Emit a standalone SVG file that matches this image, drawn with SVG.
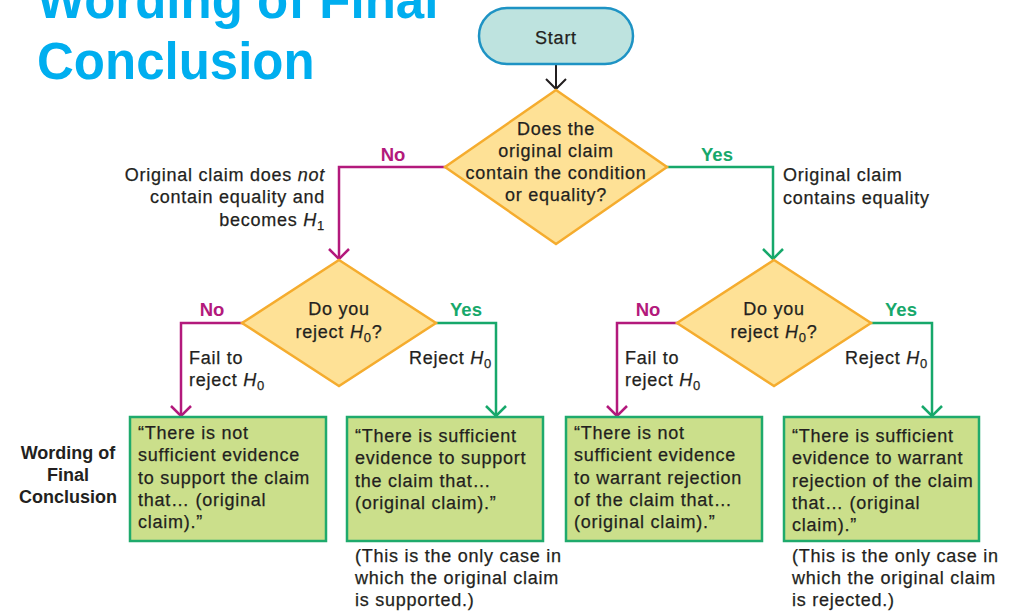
<svg xmlns="http://www.w3.org/2000/svg" width="1009" height="611" viewBox="0 0 1009 611">
<style>
.title{font-family:"Liberation Sans",Arial,sans-serif;font-weight:bold;font-size:51px;fill:#00AEEF}
.t{font-family:"Liberation Sans",Arial,sans-serif;font-size:18px;letter-spacing:0.75px;fill:#231F20;stroke:#231F20;stroke-width:0.25}
.c{text-anchor:middle}
.e{text-anchor:end}
.lbl{font-family:"Liberation Sans",Arial,sans-serif;font-weight:bold;font-size:18.5px;text-anchor:middle}
.no{fill:#B3197C}
.yes{fill:#17A86B}
.side{font-family:"Liberation Sans",Arial,sans-serif;font-weight:bold;font-size:18px;fill:#231F20;text-anchor:middle}
.dia{fill:#FEE196;stroke:#F5AC2E;stroke-width:2.5;stroke-linejoin:miter}
.box{fill:#CBDF8B;stroke:#1FAA6C;stroke-width:2.5}
.start{fill:#BEE3DF;stroke:#1E93C4;stroke-width:2.5}
.cm{fill:none;stroke:#B3197C;stroke-width:2.5}
.cg{fill:none;stroke:#17A86B;stroke-width:2.5}
.ck{fill:none;stroke:#231F20;stroke-width:2}
.i{font-style:italic}
</style>
<defs>
<marker id="am" viewBox="-13 -13 16 26" markerWidth="16" markerHeight="26" refX="0" refY="0" orient="auto" markerUnits="userSpaceOnUse"><path d="M-10,-10 L0,0 L-10,10" fill="none" stroke="#B3197C" stroke-width="2.5"/></marker>
<marker id="ag" viewBox="-13 -13 16 26" markerWidth="16" markerHeight="26" refX="0" refY="0" orient="auto" markerUnits="userSpaceOnUse"><path d="M-10,-10 L0,0 L-10,10" fill="none" stroke="#17A86B" stroke-width="2.5"/></marker>
<marker id="ak" viewBox="-13 -13 16 26" markerWidth="16" markerHeight="26" refX="0" refY="0" orient="auto" markerUnits="userSpaceOnUse"><path d="M-10,-10 L0,0 L-10,10" fill="none" stroke="#231F20" stroke-width="2"/></marker>
</defs>

<g id="title">
<text class="title" x="37" y="18">Wording of Final</text>
<text class="title" x="37" y="79">Conclusion</text>
</g>

<g id="connectors">
<path class="ck" d="M556,64 V89" marker-end="url(#ak)"/>
<path class="cm" d="M446,167 H339 V259" marker-end="url(#am)"/>
<path class="cg" d="M666,167 H773 V259" marker-end="url(#ag)"/>
<path class="cm" d="M243,323 H181 V416" marker-end="url(#am)"/>
<path class="cg" d="M436,323 H496 V416" marker-end="url(#ag)"/>
<path class="cm" d="M678,323 H617 V416" marker-end="url(#am)"/>
<path class="cg" d="M871,323 H932 V416" marker-end="url(#ag)"/>
<text class="lbl no" x="393" y="161">No</text>
<text class="lbl yes" x="717" y="161">Yes</text>
<text class="lbl no" x="212" y="316">No</text>
<text class="lbl yes" x="466" y="316">Yes</text>
<text class="lbl no" x="648" y="316">No</text>
<text class="lbl yes" x="901" y="316">Yes</text>
<text class="t e" x="325" y="181">Original claim does <tspan class="i">not</tspan></text>
<text class="t e" x="325" y="203">contain equality and</text>
<text class="t e" x="325" y="226">becomes <tspan class="i">H</tspan><tspan font-size="13" dy="4">1</tspan></text>
<text class="t" x="783" y="181">Original claim</text>
<text class="t" x="783" y="204">contains equality</text>
<text class="t" x="189" y="364">Fail to</text>
<text class="t" x="189" y="386">reject <tspan class="i">H</tspan><tspan font-size="13" dy="4">0</tspan></text>
<text class="t" x="409" y="364">Reject <tspan class="i">H</tspan><tspan font-size="13" dy="4">0</tspan></text>
<text class="t" x="625" y="364">Fail to</text>
<text class="t" x="625" y="386">reject <tspan class="i">H</tspan><tspan font-size="13" dy="4">0</tspan></text>
<text class="t" x="845" y="364">Reject <tspan class="i">H</tspan><tspan font-size="13" dy="4">0</tspan></text>
</g>

<g id="start">
<rect class="start" x="479" y="8" width="154" height="56" rx="28"/>
<text class="t c" x="556" y="44">Start</text>
</g>

<g id="q1">
<polygon class="dia" points="556,90 667,167 556,244 445,167"/>
<text class="t c" x="556" y="135">Does the</text>
<text class="t c" x="556" y="157">original claim</text>
<text class="t c" x="556" y="179">contain the condition</text>
<text class="t c" x="556" y="201">or equality?</text>
</g>

<g id="q2">
<polygon class="dia" points="339,260 436,323 339,386 242,323"/>
<text class="t c" x="339" y="315">Do you</text>
<text class="t c" x="339" y="338">reject <tspan class="i">H</tspan><tspan font-size="13" dy="4">0</tspan><tspan dy="-4">?</tspan></text>
</g>

<g id="q3">
<polygon class="dia" points="774,260 871,323 774,386 677,323"/>
<text class="t c" x="774" y="315">Do you</text>
<text class="t c" x="774" y="338">reject <tspan class="i">H</tspan><tspan font-size="13" dy="4">0</tspan><tspan dy="-4">?</tspan></text>
</g>

<g id="side-label">
<text class="side" x="68" y="459">Wording of</text>
<text class="side" x="68" y="481">Final</text>
<text class="side" x="68" y="503">Conclusion</text>
</g>

<g id="box1">
<rect class="box" x="130" y="417" width="196" height="124"/>
<text class="t" x="138" y="439">“There is not</text>
<text class="t" x="138" y="461">sufficient evidence</text>
<text class="t" x="138" y="484">to support the claim</text>
<text class="t" x="138" y="506">that… (original</text>
<text class="t" x="138" y="528">claim).”</text>
</g>

<g id="box2">
<rect class="box" x="347" y="417" width="196" height="124"/>
<text class="t" x="355" y="442">“There is sufficient</text>
<text class="t" x="355" y="464">evidence to support</text>
<text class="t" x="355" y="487">the claim that…</text>
<text class="t" x="355" y="509">(original claim).”</text>
<text class="t" x="355" y="562">(This is the only case in</text>
<text class="t" x="355" y="584">which the original claim</text>
<text class="t" x="355" y="606">is supported.)</text>
</g>

<g id="box3">
<rect class="box" x="566" y="417" width="196" height="124"/>
<text class="t" x="574" y="439">“There is not</text>
<text class="t" x="574" y="461">sufficient evidence</text>
<text class="t" x="574" y="484">to warrant rejection</text>
<text class="t" x="574" y="506">of the claim that…</text>
<text class="t" x="574" y="528">(original claim).”</text>
</g>

<g id="box4">
<rect class="box" x="784" y="417" width="195" height="124"/>
<text class="t" x="792" y="442">“There is sufficient</text>
<text class="t" x="792" y="464">evidence to warrant</text>
<text class="t" x="792" y="487">rejection of the claim</text>
<text class="t" x="792" y="509">that… (original</text>
<text class="t" x="792" y="531">claim).”</text>
<text class="t" x="792" y="562">(This is the only case in</text>
<text class="t" x="792" y="584">which the original claim</text>
<text class="t" x="792" y="606">is rejected.)</text>
</g>
</svg>
